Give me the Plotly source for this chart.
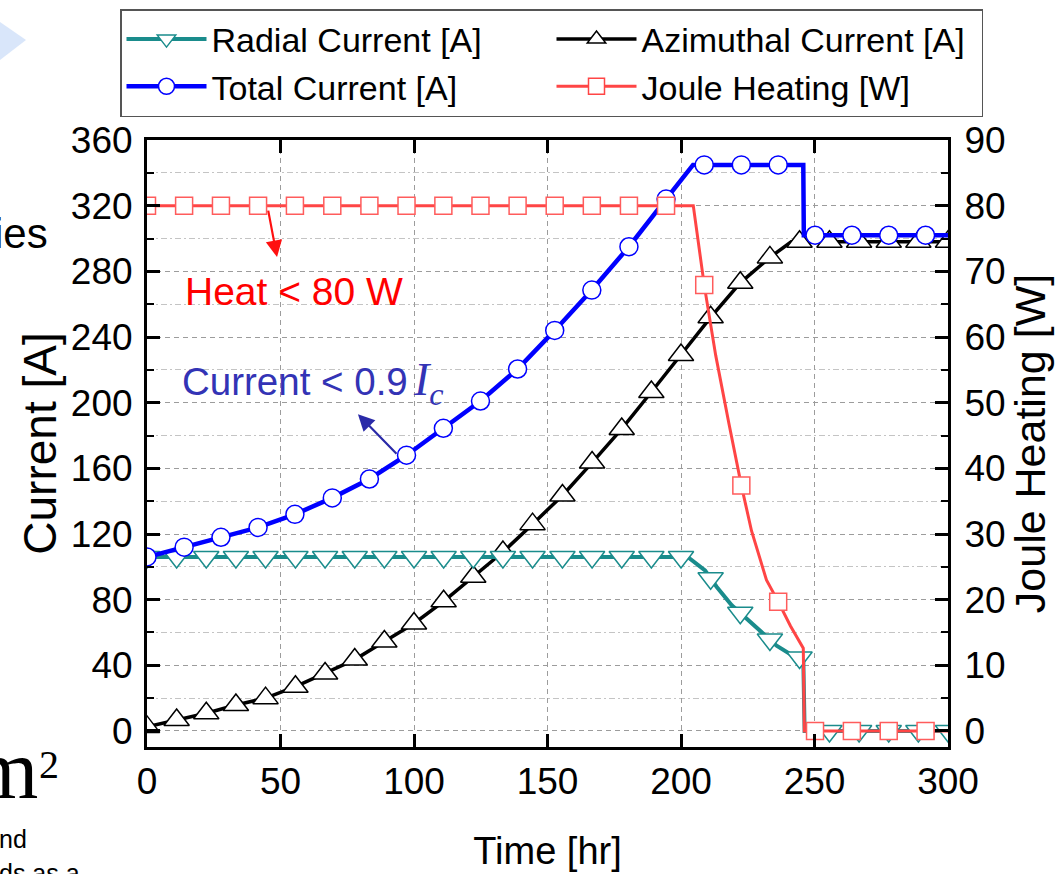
import plotly.graph_objects as go

# ---------------- data ----------------
# Radial current [A]
radial_line_t = [0, 202.5, 209, 213.4, 219, 224.6, 229.6, 235.8, 240.8, 245.8, 246.3, 300]
radial_line_A = [106, 106, 97.8, 87.7, 76.6, 68.5, 61.2, 52, 47, 44, 0, 0]
tri_marker_t = [0, 11.1, 22.2, 33.3, 44.4, 55.6, 66.7, 77.8, 88.9, 100, 111.1, 122.2, 133.3,
                144.4, 155.6, 166.7, 177.8, 188.9, 200, 211.1, 222.2, 233.3, 244.4, 255.6,
                266.7, 277.8, 288.9, 300]
radial_marker_A = [106, 106, 106, 106, 106, 106, 106, 106, 106, 106, 106, 106, 106,
                   106, 106, 106, 106, 106, 106, 93, 72, 55.7, 44.8, 0,
                   0, 0, 0, 0]

# Azimuthal current [A]
azim_line_t = [0, 11.1, 22.2, 33.3, 44.4, 55.6, 66.7, 77.8, 88.9, 100, 111.1, 122.2, 133.3,
               144.4, 155.6, 166.7, 177.8, 188.9, 200, 211.1, 222.2, 233.3, 241.3, 300]
azim_line_A = [2.5, 6.7, 10.8, 15.8, 20, 27, 35, 43.5, 54.5, 65.5, 79, 94, 109,
               126, 143.5, 163.5, 184, 206.5, 229, 252, 273, 288.5, 298, 298]
azim_marker_A = [2.5, 6.7, 10.8, 15.8, 20, 27, 35, 43.5, 54.5, 65.5, 79, 94, 109,
                 126, 143.5, 163.5, 184, 206.5, 229, 252, 273, 288.5, 298, 298,
                 298, 298, 298, 298]

# Total current [A]
circ_marker_t = [0, 13.9, 27.7, 41.6, 55.4, 69.4, 83.3, 97.2, 111, 124.9, 138.8, 152.7,
                 166.6, 180.5, 194.4, 208.7, 222.6, 236.4, 250.2, 264, 277.8, 291.6]
total_marker_A = [106, 112, 118, 124, 132, 142, 153.5, 168, 184.4, 201, 220.5, 244,
                  268.6, 295, 324, 344.8, 344.8, 344.8, 302, 302, 302, 302]
total_line_t = [0, 13.9, 27.7, 41.6, 55.4, 69.4, 83.3, 97.2, 111, 124.9, 138.8, 152.7,
                166.6, 180.5, 194.4, 204.5, 245.8, 246.0, 300]
total_line_A = [106, 112, 118, 124, 132, 142, 153.5, 168, 184.4, 201, 220.5, 244,
                268.6, 295, 324, 344.8, 344.8, 302, 302]

# Joule heating [W]
joule_line_t = [0, 204.6, 208.7, 213, 218, 222.6, 226.4, 232, 236.4, 241, 245.8, 246.2, 300]
joule_line_W = [80, 80, 67.9, 57.2, 46.7, 37.4, 30.5, 23, 19.7, 16, 12.6, 0, 0]
joule_marker_W = [80, 80, 80, 80, 80, 80, 80, 80, 80, 80, 80, 80,
                  80, 80, 80, 67.9, 37.4, 19.7, 0, 0, 0, 0]

x_ticks = [0, 50, 100, 150, 200, 250, 300]

# ---------------- styling ----------------
TEAL = '#1a8c8c'
BLUE = '#0000ff'
RED_LINE = '#ff4545'
RED_MK = '#ff5c5c'
SANS = 'Liberation Sans, Arial, sans-serif'
SERIF = 'Liberation Serif, Times New Roman, serif'

# plot area in pixels
L, R, T, B = 147, 948, 140, 747
W, H = 1058, 874


def px_x(p):
    return (p - L) / (R - L)


def px_y(p):
    return (B - p) / (B - T)


fig = go.Figure()

# legend-only entries
leg = [
    ('Radial Current [A]', TEAL, 'triangle-down', 4, 1),
    ('Azimuthal Current [A]', 'black', 'triangle-up', 3.5, 2),
    ('Total Current [A]', BLUE, 'circle', 4.5, 3),
    ('Joule Heating [W]', RED_LINE, 'square', 3, 4),
]
for name, col, sym, lw, rank in leg:
    fig.add_trace(go.Scatter(
        x=[None], y=[None], name=name, mode='lines+markers', legendrank=rank,
        line=dict(color=col, width=lw),
        marker=dict(symbol=sym, size=16, color='white', line=dict(color=col, width=1.5)),
        showlegend=True))

# Azimuthal
fig.add_trace(go.Scatter(x=azim_line_t, y=azim_line_A, mode='lines',
                         line=dict(color='black', width=3.5), showlegend=False))
fig.add_trace(go.Scatter(x=tri_marker_t, y=azim_marker_A, mode='markers', showlegend=False,
                         marker=dict(symbol='triangle-up', size=22, color='white',
                                     line=dict(color='black', width=1.5))))
# Radial
fig.add_trace(go.Scatter(x=radial_line_t, y=radial_line_A, mode='lines',
                         line=dict(color=TEAL, width=4), showlegend=False))
fig.add_trace(go.Scatter(x=tri_marker_t, y=radial_marker_A, mode='markers', showlegend=False,
                         marker=dict(symbol='triangle-down', size=22, color='white',
                                     line=dict(color=TEAL, width=1.5))))
# Total
fig.add_trace(go.Scatter(x=total_line_t, y=total_line_A, mode='lines',
                         line=dict(color=BLUE, width=4.5), showlegend=False))
fig.add_trace(go.Scatter(x=circ_marker_t, y=total_marker_A, mode='markers', showlegend=False,
                         marker=dict(symbol='circle', size=18, color='white',
                                     line=dict(color=BLUE, width=1.5))))
# Joule heating (right axis)
fig.add_trace(go.Scatter(x=joule_line_t, y=joule_line_W, mode='lines', yaxis='y2',
                         line=dict(color=RED_LINE, width=3), showlegend=False))
fig.add_trace(go.Scatter(x=circ_marker_t, y=joule_marker_W, mode='markers', yaxis='y2',
                         showlegend=False,
                         marker=dict(symbol='square', size=17, color='white',
                                     line=dict(color=RED_MK, width=1.5))))

annotations = [
    dict(x=48.7, y=288.7, ax=45.3, ay=317.9, xref='x', yref='y', axref='x', ayref='y',
         text='', showarrow=True, arrowhead=2, arrowsize=1.5, arrowwidth=2.2,
         arrowcolor='#ff1010'),
    dict(x=79, y=193, ax=94, ay=168, xref='x', yref='y', axref='x', ayref='y',
         text='', showarrow=True, arrowhead=2, arrowsize=1.5, arrowwidth=2.2,
         arrowcolor='#2a2aa8'),
    dict(x=55, y=267.7, xref='x', yref='y', text='Heat &lt; 80 W', showarrow=False,
         xanchor='center', yanchor='middle', font=dict(family=SANS, size=39, color='#ff0000')),
    dict(x=12.5, y=213, xref='x', yref='y', text='Current &lt; 0.9', showarrow=False,
         xanchor='left', yanchor='middle', font=dict(family=SANS, size=38.5, color='#3333b5')),
    dict(x=99, y=212, xref='x', yref='y', text='<i>I<sub>c</sub></i>', showarrow=False,
         xanchor='left', yanchor='middle', font=dict(family=SERIF, size=46, color='#3333b5')),
]
# fragments of surrounding page text visible at the left edge (pixel positions)
fragments = [
    dict(x=-8, y=233, text='ies', xanchor='left', font=dict(family=SANS, size=42, color='black')),
    dict(x=40, y=769, text='m', xanchor='right', font=dict(family=SERIF, size=84, color='black')),
    dict(x=37, y=764, text='2', xanchor='left', font=dict(family=SERIF, size=40, color='black')),
    dict(x=-3, y=839, text='nd', xanchor='left', font=dict(family=SANS, size=25, color='black')),
    dict(x=-3, y=873, text='ds as a', xanchor='left', font=dict(family=SANS, size=25, color='black')),
]
for f in fragments:
    annotations.append(dict(x=px_x(f['x']), y=px_y(f['y']), xref='paper', yref='paper',
                            text=f['text'], showarrow=False, xanchor=f['xanchor'],
                            yanchor='middle', font=f['font']))

shapes = [
    dict(type='path', xref='paper', yref='paper',
         path='M %f %f L %f %f L %f %f Z' % (px_x(0), px_y(22), px_x(26), px_y(40), px_x(0), px_y(60)),
         fillcolor='rgba(180,205,245,0.5)', line=dict(width=0), layer='above'),
]

axis_common = dict(ticks='inside', tickcolor='black', tickwidth=2.5, ticklen=13,
                   showline=True, linecolor='black', linewidth=3, zeroline=False,
                   automargin=False,
                   tickfont=dict(family=SANS, size=37, color='black'))

fig.update_layout(
    width=W, height=H, autosize=False,
    margin=dict(l=L, r=W - R, t=T, b=H - B, pad=0, autoexpand=False),
    paper_bgcolor='white', plot_bgcolor='white',
    font=dict(family=SANS, color='black'),
    xaxis=dict(range=[0, 300], tickvals=x_ticks, mirror='ticks',
               showgrid=True, gridcolor='#9c9c9c', gridwidth=1.2, griddash='5px,4px',
               title=dict(text='Time [hr]', font=dict(family=SANS, size=38), standoff=36),
               ticklabelstandoff=0, **axis_common),
    yaxis=dict(range=[-9.75, 360], tick0=0, dtick=40,
               showgrid=True, gridcolor='#9c9c9c', gridwidth=1.2, griddash='5px,4px',
               minor=dict(dtick=20, tick0=0, ticks='inside', ticklen=7, tickwidth=2,
                          tickcolor='black', showgrid=True, gridcolor='#c4c4c4',
                          gridwidth=1, griddash='6px,3px,2px,3px'),
               title=dict(text='Current [A]', font=dict(family=SANS, size=46), standoff=0),
               ticklabelstandoff=4, **axis_common),
    yaxis2=dict(range=[-2.4375, 90], tick0=0, dtick=10, overlaying='y', side='right',
                showgrid=False,
                minor=dict(dtick=5, tick0=0, ticks='inside', ticklen=7, tickwidth=2,
                           tickcolor='black'),
                title=dict(text='Joule Heating [W]', font=dict(family=SANS, size=43), standoff=0),
                ticklabelstandoff=6, **axis_common),
    legend=dict(orientation='h', x=px_x(120), y=px_y(9), xanchor='left', yanchor='top',
                bordercolor='#555555', borderwidth=1.5, bgcolor='white',
                font=dict(family=SANS, size=34, color='black'),
                itemwidth=80, entrywidth=335, entrywidthmode='pixels',
                tracegroupgap=0),
    annotations=annotations,
    shapes=shapes,
)

# remove the browser's default 8px body margin so the figure starts at the page corner
fig.write_html('out.html', config={'displayModeBar': False},
               post_script="document.body.style.margin='0';")
